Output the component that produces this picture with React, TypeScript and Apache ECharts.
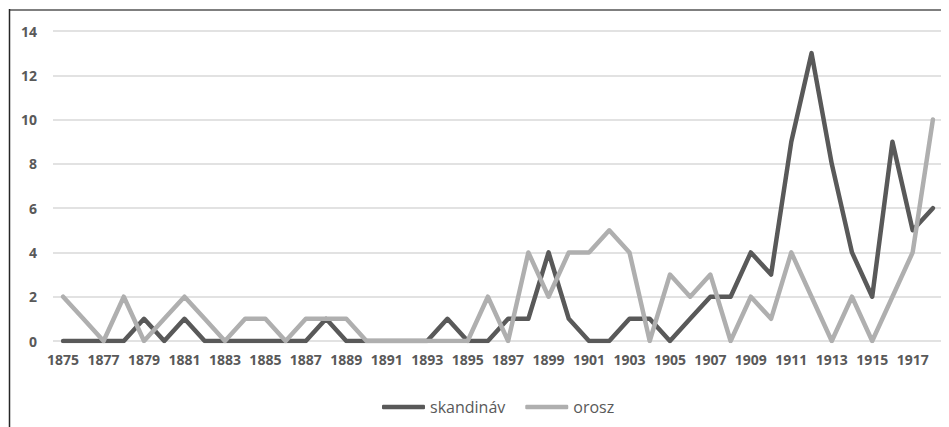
import React, { useEffect, useRef } from "react";
import * as echarts from "echarts";

const years = [
  "1875","1876","1877","1878","1879","1880","1881","1882","1883","1884",
  "1885","1886","1887","1888","1889","1890","1891","1892","1893","1894",
  "1895","1896","1897","1898","1899","1900","1901","1902","1903","1904",
  "1905","1906","1907","1908","1909","1910","1911","1912","1913","1914",
  "1915","1916","1917","1918",
];

const skandinav = [
  0, 0, 0, 0, 1, 0, 1, 0, 0, 0,
  0, 0, 0, 1, 0, 0, 0, 0, 0, 1,
  0, 0, 1, 1, 4, 1, 0, 0, 1, 1,
  0, 1, 2, 2, 4, 3, 9, 13, 8, 4,
  2, 9, 5, 6,
];

const orosz = [
  2, 1, 0, 2, 0, 1, 2, 1, 0, 1,
  1, 0, 1, 1, 1, 0, 0, 0, 0, 0,
  0, 2, 0, 4, 2, 4, 4, 5, 4, 0,
  3, 2, 3, 0, 2, 1, 4, 2, 0, 2,
  0, 2, 4, 10,
];

const seriesNames = ["skandináv", "orosz"];

export default function App() {
  const ref = useRef<HTMLDivElement>(null);
  useEffect(() => {
    if (!ref.current) return;
    const chart = echarts.init(ref.current, null, { renderer: "svg" });
    const font = "'Open Sans', sans-serif";
    chart.setOption({
      animation: false,
      textStyle: { fontFamily: font },
      grid: { left: 45, right: 6, top: 23, bottom: 86, containLabel: false },
      legend: {
        data: seriesNames,
        top: 386,
        left: 369,
        icon: "roundRect",
        itemWidth: 43,
        itemHeight: 4.5,
        itemGap: 20,
        textStyle: { color: "#595959", fontSize: 16, fontFamily: font },
      },
      xAxis: {
        type: "category",
        data: years,
        boundaryGap: true,
        axisLine: { show: false },
        axisTick: { show: false },
        axisLabel: {
          interval: 1,
          color: "#595959",
          fontSize: 14,
          fontWeight: "bold",
          fontFamily: font,
          margin: 11,
        },
      },
      yAxis: {
        type: "value",
        min: 0,
        max: 14,
        interval: 2,
        axisLine: { show: false },
        axisTick: { show: false },
        axisLabel: {
          color: "#595959",
          fontSize: 14,
          fontWeight: "bold",
          fontFamily: font,
          margin: 16,
        },
        splitLine: { lineStyle: { color: "#d9d9d9", width: 1.5 } },
      },
      graphic: [
        {
          type: "line",
          shape: { x1: 1, y1: 2, x2: 941, y2: 2 },
          style: { stroke: "#7f7f7f", lineWidth: 2 },
        },
        {
          type: "line",
          shape: { x1: 1.5, y1: 1, x2: 1.5, y2: 419 },
          style: { stroke: "#262626", lineWidth: 1.5 },
        },
      ],
      series: [
        {
          name: seriesNames[0],
          type: "line",
          data: skandinav,
          symbol: "none",
          itemStyle: { color: "#595959" },
          lineStyle: { color: "#595959", width: 4.5, join: "round", cap: "round" },
        },
        {
          name: seriesNames[1],
          type: "line",
          data: orosz,
          symbol: "none",
          itemStyle: { color: "#afafaf" },
          lineStyle: { color: "#afafaf", width: 4.5, join: "round", cap: "round" },
        },
      ],
    });
    return () => chart.dispose();
  }, []);
  return <div ref={ref} style={{ width: 941, height: 419 }} />;
}
